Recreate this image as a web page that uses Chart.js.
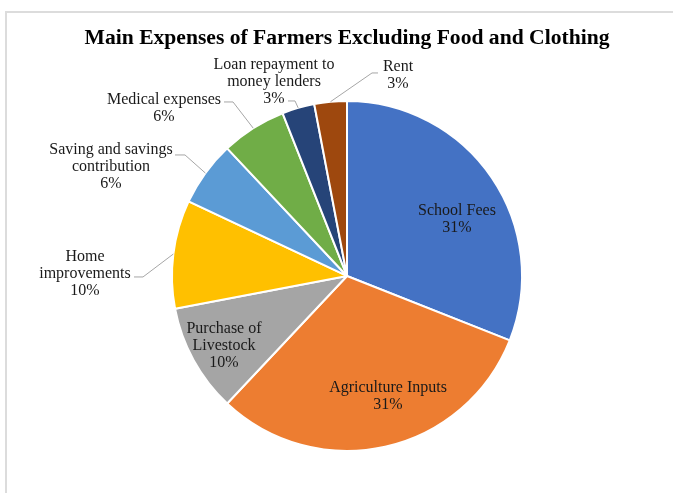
<!DOCTYPE html>
<html>
<head>
<meta charset="utf-8">
<script src="https://cdn.jsdelivr.net/npm/chart.js@4"></script>
<style>
    html, body { margin: 0; padding: 0; background: #fff; }
    #wrap { position: relative; width: 673px; height: 493px; overflow: hidden; }
    #frame { position: absolute; left: 5px; top: 11px; width: 700px; height: 520px;
             border-left: 2px solid #dcdcdc; border-top: 2px solid #dcdcdc; }
    canvas { position: absolute; left: 0; top: 0; }
</style>
</head>
<body>
<div id="wrap">
    <div id="frame"></div>
    <canvas id="expenseChart" width="673" height="493"></canvas>
</div>
<script>
const categories = [
    ['School Fees'],
    ['Agriculture Inputs'],
    ['Purchase of', 'Livestock'],
    ['Home', 'improvements'],
    ['Saving and savings', 'contribution'],
    ['Medical expenses'],
    ['Loan repayment to', 'money lenders'],
    ['Rent']
];
const shares = [31, 31, 10, 10, 6, 6, 3, 3];
const sliceColors = ['#4472C4', '#ED7D31', '#A5A5A5', '#FFC000', '#5B9BD5', '#70AD47', '#264478', '#9E480E'];

// label placement relative to the pie centre: first line centre, optional leader elbow/end
const labelLayout = [
    { x: 110, y: -65 },
    { x: 41, y: 112 },
    { x: -123, y: 53 },
    { x: -262, y: -19 },
    { x: -236, y: -126 },
    { x: -183, y: -176 },
    { x: -73, y: -211, elbow: [-52, -175], end: [-59, -175] },
    { x: 51, y: -209, elbow: [25, -203], end: [31, -203] }
];
labelLayout[3].elbow = [-204, 1];  labelLayout[3].end = [-213, 1];
labelLayout[4].elbow = [-162, -121]; labelLayout[4].end = [-172, -121];
labelLayout[5].elbow = [-114, -174]; labelLayout[5].end = [-123, -174];

const labelFont = '16px "Liberation Serif", serif';
const lineHeight = 17;

const sliceLabels = {
    id: 'sliceLabels',
    afterDatasetsDraw(chart) {
        const ctx = chart.ctx;
        const arcs = chart.getDatasetMeta(0).data;
        ctx.save();
        arcs.forEach((arc, i) => {
            const pos = labelLayout[i];
            const cx = arc.x, cy = arc.y;
            if (pos.elbow) {
                const mid = (arc.startAngle + arc.endAngle) / 2;
                ctx.strokeStyle = '#a6a6a6';
                ctx.lineWidth = 1;
                ctx.beginPath();
                ctx.moveTo(cx + Math.cos(mid) * arc.outerRadius, cy + Math.sin(mid) * arc.outerRadius);
                ctx.lineTo(cx + pos.elbow[0], cy + pos.elbow[1]);
                ctx.lineTo(cx + pos.end[0], cy + pos.end[1]);
                ctx.stroke();
            }
            const lines = categories[i].concat([shares[i] + '%']);
            ctx.fillStyle = '#1a1a1a';
            ctx.font = labelFont;
            ctx.textAlign = 'center';
            ctx.textBaseline = 'middle';
            lines.forEach((t, k) => {
                ctx.fillText(t, cx + pos.x, cy + pos.y + k * lineHeight);
            });
        });
        ctx.restore();
    }
};

new Chart(document.getElementById('expenseChart'), {
    type: 'pie',
    data: {
        labels: categories.map(c => c.join(' ')),
        datasets: [{
            data: shares,
            backgroundColor: sliceColors,
            borderColor: '#ffffff',
            borderWidth: 2
        }]
    },
    options: {
        responsive: false,
        animation: false,
        events: [],
        // the pie is sized by height; left/right padding only shifts its centre
        layout: { padding: { left: 21, right: 0, top: 0, bottom: 41 } },
        plugins: {
            legend: { display: false },
            tooltip: { enabled: false },
            title: {
                display: true,
                text: 'Main Expenses of Farmers Excluding Food and Clothing',
                color: '#000',
                font: { family: '"Liberation Serif", serif', size: 21.6, weight: 'bold', lineHeight: 1.2 },
                padding: { top: 25, bottom: 49 }
            }
        }
    },
    plugins: [sliceLabels]
});
</script>
</body>
</html>
